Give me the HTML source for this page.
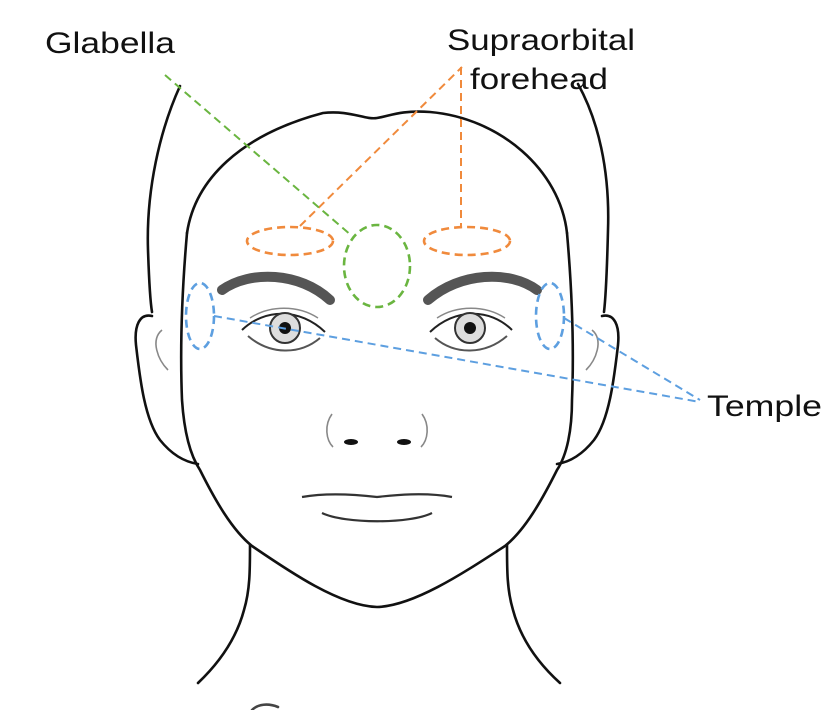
<!DOCTYPE html>
<html><head><meta charset="utf-8"><style>
html,body{margin:0;padding:0;background:#fff;}
svg{display:block}
text{font-family:"Liberation Sans",sans-serif;fill:#111;font-size:30px}
</style></head><body>
<svg width="828" height="710" viewBox="0 0 828 710" xmlns="http://www.w3.org/2000/svg">
<g fill="none" stroke="#111" stroke-width="2.6" stroke-linecap="round">
<path d="M180,86 C160,130 146,190 148,250 C149,280 150,300 152,312"/>
<path d="M578,84 C598,120 610,170 608,230 C607,270 606,295 604,312"/>
<path d="M187,233 C195,180 240,135 323,113 C350,110 365,120 377,118 C390,116 400,110 430,112 C500,118 560,170 567,233"/>
<path d="M187,233 C182,290 180,350 182,400 C184,430 190,455 200,470 C215,500 232,530 252,546 C290,572 340,606 377,607 C414,606 465,572 505,546 C525,530 542,500 557,470 C567,455 572,430 572,400 C574,350 572,290 567,233"/>
<path d="M152,316 C140,313 134,325 136,345 C140,380 145,420 160,440 C172,455 185,462 198,464"/>
<path d="M602,316 C614,313 620,325 618,345 C614,380 609,420 594,440 C582,455 570,462 557,464"/>
<path d="M250,545 C250,570 250,590 244,610 C236,640 218,664 198,683"/>
<path d="M507,545 C507,570 507,590 513,610 C521,640 539,664 560,683"/>
<path d="M252,710 C258,704 268,703 278,707" stroke="#444"/>
</g>
<g fill="none" stroke="#888" stroke-width="1.6">
<path d="M162,330 C150,340 158,360 168,370"/>
<path d="M592,330 C604,340 596,360 586,370"/>
<path d="M332,414 C324,425 326,440 333,447"/>
<path d="M422,414 C430,425 428,440 421,447"/>
</g>
<path d="M222,290 C250,270 300,272 330,300" fill="none" stroke="#555" stroke-width="10" stroke-linecap="round"/>
<path d="M428,300 C460,272 510,270 537,290" fill="none" stroke="#555" stroke-width="10" stroke-linecap="round"/>
<g fill="none" stroke="#222" stroke-width="2">
<path d="M242,330 C265,308 300,308 325,332"/>
<path d="M248,336 C270,355 300,355 320,338" stroke="#555"/>
<path d="M250,318 C270,305 298,305 318,318" stroke="#888" stroke-width="1.4"/>
<path d="M430,332 C455,308 490,308 512,330"/>
<path d="M435,338 C455,355 485,355 507,336" stroke="#555"/>
<path d="M437,318 C457,305 485,305 505,318" stroke="#888" stroke-width="1.4"/>
</g>
<circle cx="285" cy="328" r="15" fill="#ddd" stroke="#333" stroke-width="2"/>
<circle cx="285" cy="328" r="6" fill="#111"/>
<circle cx="470" cy="328" r="15" fill="#ddd" stroke="#333" stroke-width="2"/>
<circle cx="470" cy="328" r="6" fill="#111"/>
<ellipse cx="351" cy="442" rx="7" ry="3" fill="#111"/>
<ellipse cx="404" cy="442" rx="7" ry="3" fill="#111"/>
<path d="M302,497 C330,492 360,495 377,497 C395,495 425,492 452,497" fill="none" stroke="#333" stroke-width="2.2"/>
<path d="M322,513 C345,524 410,524 432,513" fill="none" stroke="#333" stroke-width="2.2"/>
<g fill="none" stroke-width="2.6" stroke-dasharray="8,5">
<ellipse cx="290" cy="241" rx="43" ry="14" stroke="#f08a3c"/>
<ellipse cx="467" cy="241" rx="43" ry="14" stroke="#f08a3c"/>
<line x1="300" y1="226" x2="462" y2="67" stroke="#f08a3c" stroke-width="2"/>
<line x1="461" y1="67" x2="461" y2="226" stroke="#f08a3c" stroke-width="2"/>
<ellipse cx="377" cy="266" rx="33" ry="41" stroke="#6ab540"/>
<line x1="165" y1="75" x2="352" y2="236" stroke="#6ab540" stroke-width="2"/>
<ellipse cx="200" cy="316" rx="14" ry="33" stroke="#5d9fe0"/>
<ellipse cx="550" cy="316" rx="14" ry="33" stroke="#5d9fe0"/>
<line x1="214" y1="316" x2="700" y2="402" stroke="#5d9fe0" stroke-width="2"/>
<line x1="564" y1="318" x2="700" y2="400" stroke="#5d9fe0" stroke-width="2"/>
</g>
<text x="45" y="53" textLength="130" lengthAdjust="spacingAndGlyphs">Glabella</text>
<text x="447" y="50" textLength="188" lengthAdjust="spacingAndGlyphs">Supraorbital</text>
<text x="470" y="89" textLength="138" lengthAdjust="spacingAndGlyphs">forehead</text>
<text x="707" y="416" textLength="115" lengthAdjust="spacingAndGlyphs">Temple</text>
</svg>
</body></html>
